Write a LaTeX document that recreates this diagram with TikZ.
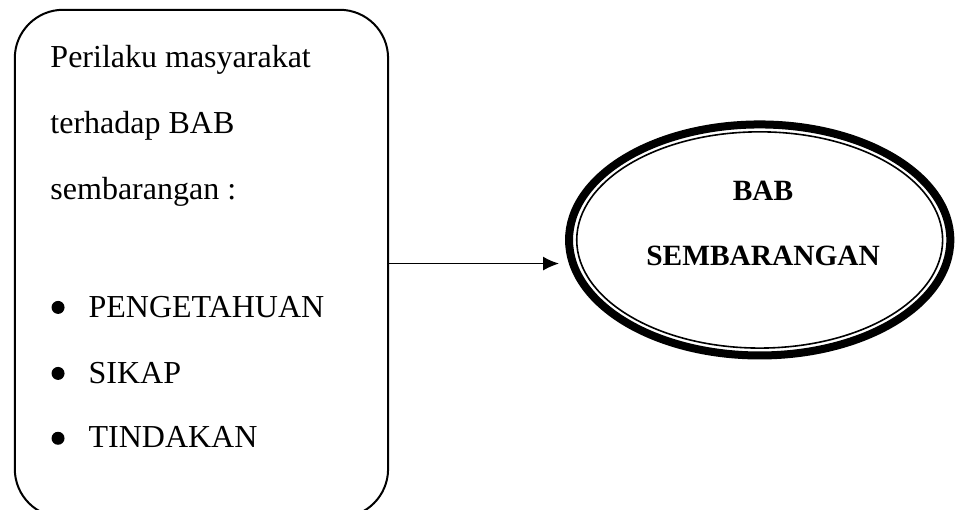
\documentclass[tikz,border=0pt]{standalone}
\usepackage{fontspec}
\setmainfont{Liberation Serif}
\usepackage{tikz}
\usetikzlibrary{arrows.meta}
\usetikzlibrary{shapes.geometric}
\tikzset{>=latex}
\tikzstyle{teks}=[font=\fontsize{16}{19}\selectfont,inner sep=0,anchor=base west]
\tikzstyle{judul}=[font=\fontsize{14.7}{17}\selectfont\bfseries,inner sep=0,anchor=base]
\tikzstyle{titik}=[circle,fill=black,inner sep=0,minimum size=6.5pt]

\begin{document}
\begin{tikzpicture}
\useasboundingbox (0,0) rectangle (16.80,8.962);

\node[draw,line width=1pt,rounded corners=0.85cm,minimum width=6.56cm,minimum height=8.92cm,inner sep=0] (perilaku) at (3.54,4.33) {};

\node[teks] (t1) at (0.88,7.77) {Perilaku masyarakat};
\node[teks] (t2) at (0.88,6.61) {terhadap BAB};
\node[teks] (t3) at (0.88,5.45) {sembarangan :};

\node[titik] (b1) at (1.02,3.56) {};
\node[titik] (b2) at (1.02,2.40) {};
\node[titik] (b3) at (1.02,1.26) {};
\node[teks] (p1) at (1.55,3.39) {PENGETAHUAN};
\node[teks] (p2) at (1.55,2.23) {SIKAP};
\node[teks] (p3) at (1.55,1.09) {TINDAKAN};

\node[ellipse,draw,line width=4pt,minimum width=6.7cm,minimum height=4.06cm,inner sep=0] (bab) at (13.35,4.745) {};
\node[ellipse,draw,line width=0.8pt,minimum width=6.43cm,minimum height=3.8cm,inner sep=0] (babdalam) at (13.35,4.745) {};
\node[judul] (j1) at (13.41,5.44) {BAB};
\node[judul] (j2) at (13.41,4.30) {SEMBARANGAN};

\draw[line width=0.75pt,-{Latex[length=8pt,width=7pt]}] (perilaku.east) -- ([xshift=-3pt]perilaku.east -| bab.west);
\end{tikzpicture}
\end{document}
